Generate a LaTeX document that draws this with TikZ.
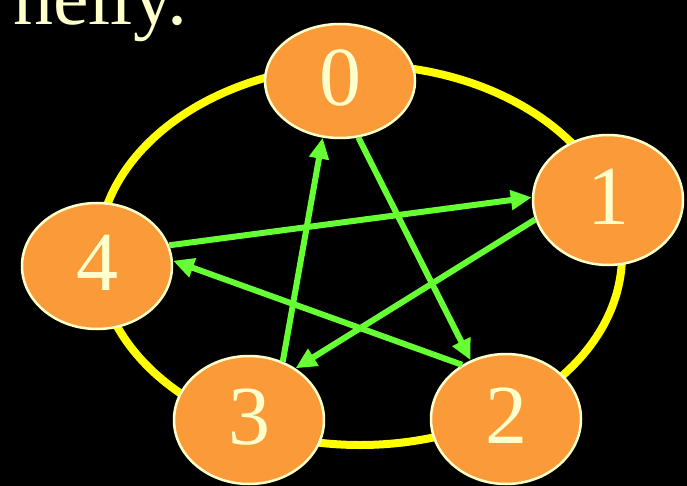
\documentclass[tikz,border=0pt]{standalone}
\usepackage{fontspec}
\setmainfont{Liberation Serif}
\usetikzlibrary{arrows.meta,shapes.geometric}
\definecolor{cream}{HTML}{FFFFCC}
\definecolor{nodeorange}{HTML}{FB9A39}
\definecolor{arrowgreen}{HTML}{66FF33}
\definecolor{ringyellow}{HTML}{FFFF00}
\begin{document}
\begin{tikzpicture}[x=1pt,y=-1pt,
  vnode/.style={ellipse, fill=nodeorange, draw=cream, line width=2.5pt, text=cream,
    font=\fontsize{84}{84}\selectfont, inner sep=0pt, text depth=7pt,
    minimum width=150pt, minimum height=128pt},
  link/.style={draw=arrowgreen, line width=6pt, -{Triangle[length=21pt,width=19pt,fill=arrowgreen]}},
  ring/.style={draw=ringyellow, line width=8pt},
  slidetext/.style={text=cream, font=\fontsize{80}{80}\selectfont, inner sep=0pt}]
\fill[black] (0,0) rectangle (687,486);
\useasboundingbox (0,0) rectangle (687,486);
\begin{scope}
\clip (0,0) rectangle (687,486);
\node[slidetext, anchor=base east] (title) at (188,25) {nelly.};
\draw[ring] (360,255) ellipse [x radius=262, y radius=190];
\node[vnode, minimum height=114pt] (n0) at (340,81) {0};
\node[vnode, minimum height=130pt] (n1) at (608,200) {1};
\node[vnode, minimum height=126pt] (n4) at (97,266) {4};
\node[vnode] (n3) at (249,420) {3};
\node[vnode, minimum height=130pt] (n2) at (506,419) {2};
\draw[link] (n0.-72) -- (n2.121);
\draw[link] (n2.129) -- (n4.4);
\draw[link] (n4.16) -- (n1.178);
\draw[link] (n1.195) -- (n3.48);
\draw[link] (n3.60) -- (n0.253);
\end{scope}
\end{tikzpicture}
\end{document}
